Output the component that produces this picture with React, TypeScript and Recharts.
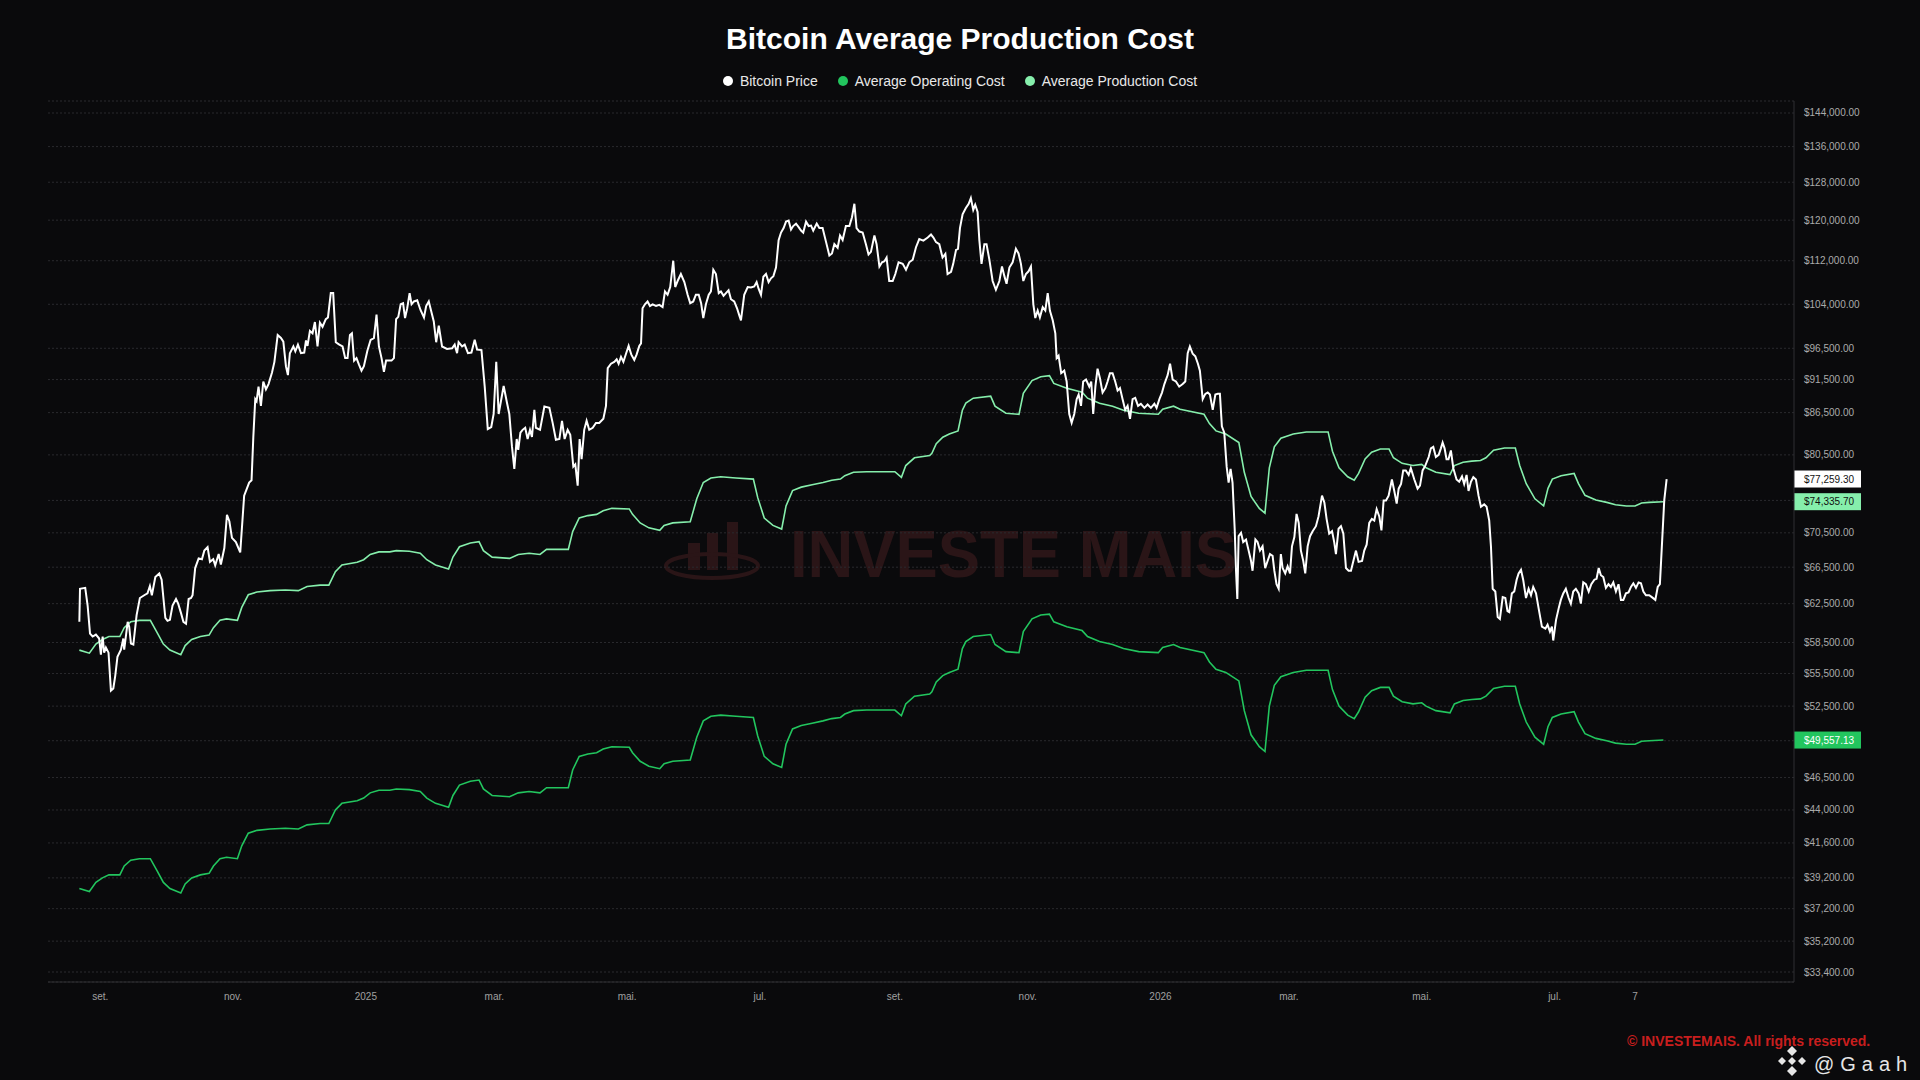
import React from 'react'
import { LineChart, Line, XAxis, YAxis, CartesianGrid, ReferenceLine } from 'recharts'

// day 0 = 1 Sep 2024, values in USD

const FONT = '"Liberation Sans", Arial, sans-serif'

// ── Axis ticks ────────────────────────────────────────────────────────────────

const X_TICKS = [0, 61, 122, 181, 242, 303, 365, 426, 487, 546, 607, 668, 705]
const X_LABELS = ['set.', 'nov.', '2025', 'mar.', 'mai.', 'jul.', 'set.', 'nov.', '2026', 'mar.', 'mai.', 'jul.', '7']

const Y_TICKS = [
  33400, 35200, 37200, 39200, 41600, 44000, 46500, 49500, 52500, 55500, 58500, 62500,
  66500, 70500, 74500, 80500, 86500, 91500, 96500, 104000, 112000, 120000, 128000, 136000, 144000,
]
// tick labels hidden under the last-value tags
const HIDDEN_TICKS = [49500, 74500]

// ── Series: [day, value] ──────────────────────────────────────────────────────

const PRICE: [number, number][] = [
  [-9.6, 60600], [-9.3, 64100], [-6.9, 64200], [-5.8, 62300], [-4.7, 59400], [-3.5, 59100], [-2.0, 59300],
  [-0.5, 58900], [0.3, 57300], [1.1, 59100], [1.8, 57500], [2.6, 58000], [3.8, 57500], [4.9, 53900],
  [6.0, 54100], [6.9, 55300], [7.9, 57100], [9.5, 57800], [10.6, 58900], [11.0, 57800], [12.6, 60600],
  [13.3, 60100], [14.1, 58400], [15.2, 58300], [16.7, 61300], [18.2, 63100], [20.2, 63400], [21.7, 63600],
  [22.8, 64400], [23.7, 63400], [25.3, 65400], [27.1, 65800], [28.2, 65100], [29.9, 61000], [30.9, 60700],
  [32.0, 60800], [33.2, 62300], [34.8, 63000], [35.8, 62500], [37.1, 61500], [38.2, 60600], [39.4, 60400],
  [40.6, 63000], [41.7, 63100], [42.4, 63400], [43.6, 66400], [45.2, 67500], [46.7, 67400], [47.8, 68400],
  [49.3, 68800], [50.4, 67100], [51.9, 67400], [52.8, 66700], [54.4, 68000], [55.4, 66800], [57.0, 68700],
  [58.2, 72700], [59.3, 71900], [60.5, 69900], [62.3, 69400], [64.3, 68200], [66.1, 75100], [68.4, 76800],
  [69.5, 77100], [70.3, 82900], [71.2, 88500], [71.8, 88200], [72.7, 90400], [73.8, 87500], [74.9, 91200],
  [76.1, 90000], [77.3, 90800], [78.9, 92600], [80.0, 94300], [81.5, 98700], [83.0, 98200], [84.1, 97600],
  [85.3, 93600], [86.2, 92200], [87.1, 95700], [88.7, 96800], [89.6, 96000], [90.8, 97100], [92.2, 95700],
  [93.7, 95800], [94.5, 97800], [95.2, 96900], [96.3, 99400], [97.5, 99000], [98.6, 100900], [99.8, 96800],
  [100.9, 100800], [102.1, 100100], [103.6, 101400], [104.6, 101700], [105.9, 106000], [107.0, 106000],
  [108.2, 97500], [109.8, 97100], [111.3, 96800], [112.5, 94900], [113.6, 94900], [114.7, 98700],
  [115.6, 99000], [116.6, 94500], [117.7, 94900], [118.8, 93900], [120.0, 92900], [121.1, 93600],
  [122.7, 96100], [124.2, 97900], [125.7, 98200], [126.9, 102200], [128.0, 96800], [129.2, 94900],
  [130.3, 92700], [131.3, 94500], [133.8, 94500], [134.9, 94900], [135.9, 101400], [136.9, 101800],
  [138.0, 104000], [139.1, 104200], [140.0, 101600], [141.0, 103300], [142.1, 106000], [143.0, 104000],
  [144.1, 104500], [145.6, 104700], [147.1, 103000], [148.7, 101700], [149.7, 103700], [150.9, 104500],
  [152.2, 102500], [153.2, 101000], [154.3, 97500], [155.5, 100300], [157.0, 96800], [159.3, 96400],
  [161.6, 96500], [162.8, 97100], [163.9, 95700], [164.6, 97500], [166.2, 96800], [167.4, 97100],
  [168.9, 95700], [170.5, 95800], [172.0, 97900], [173.1, 96300], [175.1, 96200], [176.6, 90400],
  [178.0, 84100], [179.6, 84400], [180.7, 86300], [181.9, 94300], [183.0, 86300], [185.3, 90500],
  [186.8, 88000], [187.9, 86300], [189.1, 81700], [190.2, 78600], [191.3, 82700], [192.0, 81200],
  [193.0, 83600], [194.0, 84000], [195.2, 84300], [196.3, 82700], [197.4, 84000], [198.3, 83000],
  [199.4, 86900], [200.1, 84300], [202.0, 84000], [204.0, 87400], [206.3, 87200], [207.8, 85000],
  [209.3, 82600], [210.9, 82700], [212.1, 85300], [213.3, 82700], [214.7, 84000], [215.9, 83300],
  [217.3, 78900], [218.2, 79200], [219.3, 76400], [220.2, 82700], [221.1, 79900], [222.3, 84000],
  [223.4, 85300], [224.6, 84000], [226.2, 84300], [227.7, 85000], [229.2, 85000], [231.1, 85600],
  [232.3, 87500], [233.1, 93300], [234.6, 94000], [236.1, 94300], [237.2, 94700], [238.1, 94000],
  [239.2, 95100], [240.3, 94300], [241.5, 95600], [242.7, 96900], [243.9, 95500], [245.3, 94600],
  [246.4, 95500], [247.6, 96900], [248.4, 97300], [249.1, 103300], [250.2, 104000], [251.4, 104500],
  [252.5, 103700], [253.7, 104000], [255.3, 103700], [256.8, 103900], [258.3, 103500], [259.4, 106300],
  [260.6, 105700], [261.8, 107100], [263.2, 112000], [264.1, 107100], [265.2, 108200], [266.7, 109500],
  [268.3, 108000], [269.8, 105700], [271.0, 104200], [272.4, 104500], [273.6, 105700], [274.9, 105700],
  [276.0, 104200], [277.0, 101600], [278.2, 104000], [279.5, 105700], [280.5, 106300], [281.6, 110300],
  [282.8, 109500], [284.1, 106000], [285.1, 106300], [286.3, 105500], [287.4, 106000], [288.6, 106500],
  [289.7, 104900], [291.2, 104500], [292.5, 103300], [293.5, 102100], [294.3, 101200], [295.8, 105700],
  [297.4, 107100], [298.9, 107000], [300.4, 107200], [301.5, 108000], [302.4, 106800], [303.5, 105700],
  [304.6, 109000], [305.8, 109500], [307.0, 108000], [308.1, 108700], [309.2, 109100], [310.4, 110700],
  [311.6, 116000], [312.7, 117500], [313.9, 118400], [315.0, 119700], [316.2, 119900], [317.3, 118100],
  [318.3, 118800], [319.6, 119300], [320.8, 118600], [321.9, 117900], [322.9, 117500], [324.2, 119700],
  [325.4, 118800], [326.5, 118900], [327.5, 117900], [329.1, 119300], [330.3, 118400], [331.8, 118400],
  [333.4, 115600], [334.9, 113000], [336.1, 113400], [337.2, 115200], [338.7, 114500], [339.8, 116900],
  [341.0, 116000], [342.5, 118800], [344.1, 118800], [345.3, 120600], [346.4, 123400], [347.4, 118400],
  [348.7, 117700], [350.2, 117500], [351.7, 115200], [352.9, 113200], [354.0, 113700], [355.6, 116900],
  [356.6, 115200], [357.9, 110900], [359.1, 111700], [360.2, 111900], [361.2, 112600], [362.4, 108200],
  [364.0, 108200], [365.2, 109500], [366.7, 111700], [368.6, 111400], [370.1, 110300], [371.6, 111700],
  [373.2, 112200], [374.7, 114600], [376.2, 116200], [378.1, 115900], [380.1, 116500], [381.6, 117100],
  [382.7, 116500], [383.9, 115600], [385.4, 115200], [386.9, 112600], [388.2, 113300], [389.2, 109500],
  [390.8, 109900], [391.8, 111400], [393.1, 114100], [394.0, 114300], [394.9, 118400], [396.1, 121200],
  [397.6, 122500], [398.9, 123400], [399.9, 124600], [401.0, 122100], [401.9, 123200], [403.0, 121700],
  [403.8, 116000], [404.8, 111400], [406.1, 115200], [407.1, 115200], [408.4, 112200], [409.9, 108200],
  [411.4, 106600], [413.0, 108200], [414.2, 110900], [415.3, 109100], [416.3, 107700], [417.6, 110700],
  [419.1, 111700], [420.6, 114300], [421.8, 113400], [422.9, 111400], [424.0, 108200], [425.2, 109500],
  [426.4, 110000], [427.5, 110900], [428.6, 104000], [429.5, 101600], [430.6, 102900], [431.6, 101700],
  [432.9, 103500], [434.1, 102900], [435.2, 106000], [436.2, 102900], [437.5, 101200], [438.7, 99000],
  [439.3, 94900], [440.2, 95300], [441.4, 92500], [442.8, 92900], [443.9, 91200], [445.1, 86300],
  [446.2, 85000], [447.4, 86300], [448.5, 88500], [449.4, 89200], [450.5, 87500], [451.5, 91200],
  [452.8, 91500], [454.3, 90400], [455.2, 91200], [456.1, 86300], [457.1, 90400], [458.1, 93200],
  [459.2, 91700], [460.4, 89500], [461.7, 90200], [462.7, 91200], [463.8, 92500], [465.0, 92500],
  [466.2, 91200], [467.3, 89800], [468.4, 90200], [469.6, 88500], [470.8, 86900], [471.9, 87500],
  [473.0, 85600], [474.2, 88500], [475.4, 88700], [476.7, 87500], [478.0, 87800], [479.6, 87200],
  [481.1, 87700], [482.6, 87200], [484.2, 87800], [485.2, 87200], [486.5, 88500], [487.7, 89500],
  [488.8, 90800], [490.3, 92200], [491.4, 94000], [492.6, 91500], [494.1, 91200], [495.6, 90400],
  [497.2, 90800], [498.4, 91200], [499.5, 95700], [500.5, 96800], [501.8, 95600], [503.0, 95200],
  [504.2, 94000], [505.1, 92900], [506.4, 88500], [507.6, 89300], [508.7, 89500], [509.7, 89200],
  [511.0, 86900], [512.2, 89200], [513.3, 89300], [514.3, 89300], [515.2, 84500], [516.3, 83600],
  [517.4, 78900], [518.3, 76800], [519.2, 78600], [520.1, 76800], [521.1, 70900], [521.7, 66100],
  [522.3, 63000], [522.9, 70100], [524.0, 70500], [525.0, 69400], [526.3, 69700], [527.5, 68400],
  [528.6, 67200], [529.3, 66100], [530.6, 69700], [531.6, 69400], [532.7, 68400], [533.9, 68900],
  [535.1, 66400], [536.2, 67200], [537.3, 68000], [538.5, 67800], [539.3, 66100], [540.3, 64600],
  [541.3, 64100], [542.3, 68000], [543.1, 66400], [544.3, 65800], [545.4, 66600], [546.5, 65800],
  [547.4, 68900], [548.5, 70000], [549.5, 72800], [550.5, 71700], [551.5, 68400], [552.6, 67200],
  [553.5, 65800], [554.6, 68900], [555.7, 70100], [556.9, 70700], [558.4, 71300], [559.6, 72500],
  [561.2, 75100], [562.3, 74200], [563.3, 72200], [564.5, 70400], [565.8, 70700], [566.8, 69400],
  [567.6, 68000], [568.8, 71000], [569.9, 71300], [571.0, 70400], [572.2, 66400], [573.4, 66100],
  [574.5, 66100], [575.6, 67200], [576.8, 68400], [578.0, 67100], [579.6, 67200], [580.6, 68400],
  [581.7, 69100], [582.9, 71700], [584.1, 72200], [585.2, 72000], [586.3, 73400], [587.5, 72500],
  [588.5, 70800], [589.5, 74500], [590.6, 74500], [591.8, 75100], [593.3, 77200], [594.4, 75700],
  [595.5, 74100], [596.4, 76000], [597.5, 76600], [598.5, 78400], [599.7, 78400], [601.0, 77800],
  [602.0, 78700], [603.6, 77200], [605.1, 76000], [606.2, 76400], [607.4, 78400], [608.6, 79000],
  [610.2, 80200], [611.2, 81400], [612.3, 81600], [613.5, 80200], [614.8, 80500], [615.8, 81400],
  [616.6, 82200], [617.5, 81400], [618.4, 79900], [619.3, 79900], [620.4, 81100], [621.5, 78700],
  [623.0, 77200], [624.2, 76900], [625.5, 77600], [626.5, 76600], [627.6, 77800], [628.5, 75700],
  [629.6, 76900], [630.7, 77500], [631.9, 77200], [633.1, 75100], [634.2, 73700], [635.7, 74000],
  [636.8, 73700], [638.0, 72000], [638.8, 68900], [639.6, 64100], [640.8, 63800], [641.9, 61100],
  [642.9, 60900], [644.2, 63200], [645.4, 63100], [646.4, 61700], [647.2, 61600], [648.4, 63600],
  [649.5, 63800], [650.6, 65100], [651.5, 65800], [652.6, 66200], [653.6, 65100], [654.9, 63100],
  [656.1, 64100], [657.2, 63400], [658.2, 64300], [659.5, 63600], [660.7, 62000], [662.2, 60100],
  [663.8, 59900], [664.8, 60300], [665.9, 59600], [666.8, 60100], [667.4, 58700], [668.7, 60800],
  [669.9, 62000], [670.9, 62900], [672.0, 63600], [673.2, 64100], [674.5, 63100], [675.5, 62500],
  [676.6, 63800], [677.8, 64100], [679.1, 63600], [680.1, 62500], [681.2, 64800], [682.4, 64600],
  [683.7, 63800], [684.9, 64600], [686.3, 65100], [687.3, 65200], [688.3, 66400], [689.3, 65600],
  [690.4, 65400], [691.6, 64200], [692.8, 64600], [693.9, 64300], [695.0, 64800], [696.2, 63800],
  [697.4, 64600], [698.5, 62900], [699.6, 62900], [700.8, 63600], [702.0, 63700], [703.1, 64300],
  [704.2, 64700], [705.4, 64200], [706.6, 64800], [707.7, 64700], [708.8, 63800], [710.0, 63400],
  [711.5, 63400], [712.7, 63200], [714.3, 62900], [715.4, 64300], [716.4, 64600], [717.3, 68900],
  [718.4, 74500], [719.5, 77259.3],
]

const OPERATING_COST: [number, number][] = [
  [-9.6, 38500], [-5, 38300], [-2, 38900], [1, 39200], [4, 39400], [9, 39400], [11, 40000], [14, 40400],
  [18, 40500], [23, 40500], [26, 39700], [29, 38900], [32, 38500], [37, 38200], [39, 38800], [42, 39200],
  [46, 39400], [50, 39500], [52, 40000], [55, 40500], [58, 40600], [63, 40500], [65, 41400], [68, 42300],
  [72, 42500], [78, 42600], [85, 42650], [91, 42600], [95, 42900], [101, 43000], [105, 43000], [108, 44000],
  [111, 44500], [118, 44700], [121, 44900], [124, 45300], [128, 45500], [133, 45500], [136, 45600],
  [142, 45550], [147, 45400], [150, 44900], [154, 44500], [160, 44200], [162, 45100], [165, 45900],
  [170, 46200], [174, 46300], [176, 45600], [180, 45100], [188, 45000], [192, 45300], [197, 45400],
  [202, 45300], [205, 45700], [215, 45700], [217, 47100], [220, 48200], [224, 48400], [228, 48500],
  [231, 48800], [235, 49000], [243, 48950], [244.5, 48500], [248, 47800], [252, 47400], [257, 47200],
  [259, 47600], [263, 47800], [271, 47900], [274, 49800], [277, 51200], [280.5, 51600], [285, 51700],
  [292, 51600], [300, 51500], [302, 49900], [305, 48200], [309, 47600], [313, 47300], [315, 49200],
  [318, 50500], [322, 50800], [327, 51000], [332, 51200], [336, 51400], [340, 51500], [342, 51800],
  [346, 52100], [352, 52150], [365, 52150], [368, 51650], [370, 52700], [374, 53400], [381, 53600],
  [382, 53800], [384, 54700], [387, 55300], [390, 55600], [394, 55900], [396, 57900], [397.6, 58600],
  [401, 59100], [409, 59300], [411, 58300], [416, 57600], [422, 57500], [424, 59600], [428, 60900],
  [432, 61300], [436, 61400], [438, 60600], [444, 60100], [451, 59700], [453.5, 59100], [459, 58600],
  [465, 58300], [470, 57900], [477, 57600], [486, 57500], [488, 58000], [493, 58300], [496, 58000],
  [507, 57500], [509.5, 56600], [512.5, 55900], [517, 55600], [523, 54800], [525.5, 52100], [528.6, 50000],
  [532.4, 49000], [535, 48600], [537, 52500], [539.3, 54400], [542.3, 55200], [548, 55600], [554, 55800],
  [564, 55800], [566, 54000], [569, 52500], [573, 51700], [576, 51400], [578, 52000], [581, 53300],
  [584, 53900], [588, 54200], [592, 54200], [594, 53400], [598, 52900], [603, 52700], [607, 52800],
  [609, 52500], [613.5, 52100], [620, 51900], [622, 52700], [626, 53000], [630, 53100], [634, 53150],
  [636.5, 53400], [640, 54100], [645, 54300], [650, 54300], [652, 52700], [655, 51100], [659, 49800],
  [663, 49200], [665, 50700], [667, 51500], [671, 51800], [677, 52000], [679, 51100], [682, 50100],
  [687, 49700], [692, 49500], [696, 49300], [701, 49200], [705, 49200], [708, 49450], [711.5, 49500],
  [718, 49557.13],
]

const PRODUCTION_COST: [number, number][] = [
  [-9.6, 57750], [-5, 57450], [-2, 58350], [1, 58800], [4, 59100], [9, 59100], [11, 60000], [14, 60600],
  [18, 60750], [23, 60750], [26, 59550], [29, 58350], [32, 57750], [37, 57300], [39, 58200], [42, 58800],
  [46, 59100], [50, 59250], [52, 60000], [55, 60750], [58, 60900], [63, 60750], [65, 62100], [68, 63450],
  [72, 63750], [78, 63900], [85, 63975], [91, 63900], [95, 64350], [101, 64500], [105, 64500], [108, 66000],
  [111, 66750], [118, 67050], [121, 67350], [124, 67950], [128, 68250], [133, 68250], [136, 68400],
  [142, 68325], [147, 68100], [150, 67350], [154, 66750], [160, 66300], [162, 67650], [165, 68850],
  [170, 69300], [174, 69450], [176, 68400], [180, 67650], [188, 67500], [192, 67950], [197, 68100],
  [202, 67950], [205, 68550], [215, 68550], [217, 70650], [220, 72300], [224, 72600], [228, 72750],
  [231, 73200], [235, 73500], [243, 73425], [244.5, 72750], [248, 71700], [252, 71100], [257, 70800],
  [259, 71400], [263, 71700], [271, 71850], [274, 74700], [277, 76800], [280.5, 77400], [285, 77550],
  [292, 77400], [300, 77250], [302, 74850], [305, 72300], [309, 71400], [313, 70950], [315, 73800],
  [318, 75750], [322, 76200], [327, 76500], [332, 76800], [336, 77100], [340, 77250], [342, 77700],
  [346, 78150], [352, 78225], [365, 78225], [368, 77475], [370, 79050], [374, 80100], [381, 80400],
  [382, 80700], [384, 82050], [387, 82950], [390, 83400], [394, 83850], [396, 86850], [397.6, 87900],
  [401, 88650], [409, 88950], [411, 87450], [416, 86400], [422, 86250], [424, 89400], [428, 91350],
  [432, 91950], [436, 92100], [438, 90900], [444, 90150], [451, 89550], [453.5, 88650], [459, 87900],
  [465, 87450], [470, 86850], [477, 86400], [486, 86250], [488, 87000], [493, 87450], [496, 87000],
  [507, 86250], [509.5, 84900], [512.5, 83850], [517, 83400], [523, 82200], [525.5, 78150], [528.6, 75000],
  [532.4, 73500], [535, 72900], [537, 78750], [539.3, 81600], [542.3, 82800], [548, 83400], [554, 83700],
  [564, 83700], [566, 81000], [569, 78750], [573, 77550], [576, 77100], [578, 78000], [581, 79950],
  [584, 80850], [588, 81300], [592, 81300], [594, 80100], [598, 79350], [603, 79050], [607, 79200],
  [609, 78750], [613.5, 78150], [620, 77850], [622, 79050], [626, 79500], [630, 79650], [634, 79725],
  [636.5, 80100], [640, 81150], [645, 81450], [650, 81450], [652, 79050], [655, 76650], [659, 74700],
  [663, 73800], [665, 76050], [667, 77250], [671, 77700], [677, 78000], [679, 76650], [682, 75150],
  [687, 74550], [692, 74250], [696, 73950], [701, 73800], [705, 73800], [708, 74175], [711.5, 74250],
  [718, 74335.7],
]

// ─────────────────────────────────────────────────────────────────────────────

const COLORS = {
  bg: '#0a0a0c',
  price: '#ffffff',
  operating: '#22c55e',
  production: '#86efac',
  grid: '#2a2a2e',
  axis: '#2f2f33',
  tick: '#ababab',
}

const toRows = (pts: [number, number][]) => pts.map(([day, value]) => ({ day, value }))
const priceRows = toRows(PRICE)
const operatingRows = toRows(OPERATING_COST)
const productionRows = toRows(PRODUCTION_COST)

const last = (pts: [number, number][]) => pts[pts.length - 1][1]

const money = (v: number) =>
  '$' + v.toLocaleString('en-US', { minimumFractionDigits: 2, maximumFractionDigits: 2 })

function YTick({ x, y, payload }: any) {
  if (HIDDEN_TICKS.includes(payload.value)) return <g />
  return (
    <text x={x} y={y} dy={3.5} textAnchor="start" fill={COLORS.tick} fontSize={10} fontFamily={FONT}>
      {money(payload.value)}
    </text>
  )
}

// value tag drawn on the price scale, right of the plot
function PriceTag({ viewBox, text, bg, fg }: any) {
  if (!viewBox) return null
  const x = viewBox.x + viewBox.width
  const y = viewBox.y
  return (
    <g>
      <rect x={x} y={y - 8.5} width={67} height={17} fill={bg} />
      <text x={x + 10} y={y} dy={3.5} fill={fg} fontSize={10} fontFamily={FONT}>
        {text}
      </text>
    </g>
  )
}

const LEGEND = [
  { name: 'Bitcoin Price', color: COLORS.price },
  { name: 'Average Operating Cost', color: COLORS.operating },
  { name: 'Average Production Cost', color: COLORS.production },
]

export default function App() {
  return (
    <div style={{ position: 'fixed', left: 0, top: 0, width: 1920, height: 1080, background: COLORS.bg, overflow: 'hidden' }}>
      {/* watermark behind the series */}
      <svg width={1920} height={1080} style={{ position: 'absolute', left: 0, top: 0 }}>
        <g fill="#2a1517">
          <rect x={688} y={543} width={12} height={27} />
          <rect x={707} y={533} width={11} height={37} />
          <rect x={727} y={522} width={11} height={48} />
        </g>
        <ellipse cx={712} cy={566} rx={46} ry={12} fill="none" stroke="#2a1517" strokeWidth={4} />
        <text x={790} y={577} fontSize={67} fontWeight={700} fontFamily={FONT} fill="#2a1517" textLength={447} lengthAdjust="spacingAndGlyphs">
          INVESTE MAIS
        </text>
      </svg>

      <div style={{ position: 'absolute', left: 0, top: 24, width: 1920, textAlign: 'center', color: '#ffffff', fontFamily: FONT, fontWeight: 700, fontSize: 30, lineHeight: '30px' }}>
        Bitcoin Average Production Cost
      </div>
      <div style={{ position: 'absolute', left: 0, top: 72, width: 1920, height: 18, display: 'flex', justifyContent: 'center', gap: 20, fontFamily: FONT, fontSize: 14, color: '#e8e8e8' }}>
        {LEGEND.map((item) => (
          <div key={item.name} style={{ display: 'flex', alignItems: 'center' }}>
            <span style={{ width: 10, height: 10, borderRadius: 5, background: item.color, marginRight: 7 }} />
            <span>{item.name}</span>
          </div>
        ))}
      </div>

      <div style={{ position: 'absolute', left: 0, top: 0 }}>
        <LineChart width={1920} height={1080} margin={{ top: 101, right: 6, bottom: 68, left: 48 }}>
          <CartesianGrid vertical={false} stroke={COLORS.grid} strokeDasharray="2 2" />
          <XAxis
            type="number"
            dataKey="day"
            domain={[-24, 778]}
            allowDataOverflow
            ticks={X_TICKS}
            tickFormatter={(v: number) => X_LABELS[X_TICKS.indexOf(v)] ?? ''}
            height={30}
            tickSize={0}
            tickMargin={11}
            tickLine={false}
            axisLine={{ stroke: COLORS.axis }}
            tick={{ fill: '#a0a0a0', fontSize: 10, fontFamily: FONT }}
          />
          <YAxis
            orientation="right"
            scale="log"
            domain={[32837, 146966]}
            allowDataOverflow
            ticks={Y_TICKS}
            interval={0}
            width={120}
            tickSize={0}
            tickMargin={10}
            tickLine={false}
            axisLine={{ stroke: COLORS.axis }}
            tick={<YTick />}
          />
          <Line data={productionRows} dataKey="value" stroke={COLORS.production} strokeWidth={1.6} dot={false} isAnimationActive={false} />
          <Line data={operatingRows} dataKey="value" stroke={COLORS.operating} strokeWidth={1.6} dot={false} isAnimationActive={false} />
          <Line data={priceRows} dataKey="value" stroke={COLORS.price} strokeWidth={2} dot={false} isAnimationActive={false} />
          <ReferenceLine y={last(PRICE)} stroke="none" label={<PriceTag text={money(last(PRICE))} bg="#ffffff" fg="#111111" />} />
          <ReferenceLine y={last(PRODUCTION_COST)} stroke="none" label={<PriceTag text={money(last(PRODUCTION_COST))} bg={COLORS.production} fg="#111111" />} />
          <ReferenceLine y={last(OPERATING_COST)} stroke="none" label={<PriceTag text={money(last(OPERATING_COST))} bg={COLORS.operating} fg="#ffffff" />} />
        </LineChart>
      </div>

      {/* footer marks */}
      <svg width={1920} height={1080} style={{ position: 'absolute', left: 0, top: 0, pointerEvents: 'none' }}>
        <text x={1627} y={1046} fontSize={14} fontWeight={700} fontFamily={FONT} fill="#c81e1e">
          © INVESTEMAIS. All rights reserved.
        </text>
        <g fill="#e6e6e6">
          <polygon points="1792,1046 1797,1051 1792,1056 1787,1051" />
          <polygon points="1792,1057 1796,1061 1792,1065 1788,1061" />
          <polygon points="1782,1057 1786,1061 1782,1065 1778,1061" />
          <polygon points="1802,1057 1806,1061 1802,1065 1798,1061" />
          <polygon points="1787,1071 1792,1066 1797,1071 1792,1076" />
        </g>
        <text x={1814} y={1071} fontSize={20} fontFamily={FONT} fill="#e6e6e6" letterSpacing={6}>
          @Gaah
        </text>
      </svg>
    </div>
  )
}
